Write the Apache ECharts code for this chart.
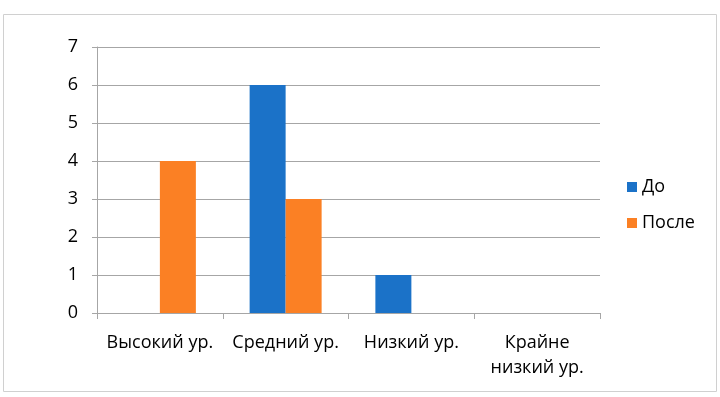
<!DOCTYPE html>
<html>
<head>
<meta charset="utf-8">
<script src="https://cdn.jsdelivr.net/npm/echarts@6/dist/echarts.min.js"></script>
<style>
  html, body { margin: 0; padding: 0; background: #fff; }
  #chart { width: 720px; height: 397px; }
</style>
</head>
<body>
<div id="chart"></div>
<script>
// levels on the x axis
var categories = ["Высокий ур.", "Средний ур.", "Низкий ур.", "Крайне\nнизкий ур."];
var before = [0, 6, 1, 0];   // До
var after = [4, 3, 0, 0];    // После

var font = "'Open Sans', 'Noto Sans', sans-serif";
var chart = echarts.init(document.getElementById("chart"));

chart.setOption({
  animation: false,
  textStyle: { fontFamily: font },
  graphic: [{
    type: "rect",
    shape: { x: 3.5, y: 14.5, width: 713, height: 377 },
    style: { fill: "none", stroke: "#d0d0d0", lineWidth: 1 }
  }],
  grid: { left: 97, right: 120, top: 47, bottom: 84 },
  legend: {
    orient: "vertical",
    left: 622,
    top: 173,
    itemWidth: 10,
    itemHeight: 10,
    itemGap: 18,
    icon: "rect",
    textStyle: { fontFamily: font, fontSize: 18, color: "#000" },
    data: ["До", "После"]
  },
  xAxis: {
    type: "category",
    data: categories,
    axisLine: { lineStyle: { color: "#a6a6a6" } },
    axisTick: { show: true, length: 6, alignWithLabel: false, lineStyle: { color: "#a6a6a6" } },
    axisLabel: { color: "#000", fontSize: 18, margin: 17, lineHeight: 25, interval: 0, fontFamily: font }
  },
  yAxis: {
    type: "value",
    min: 0,
    max: 7,
    interval: 1,
    axisLine: { show: true, lineStyle: { color: "#a6a6a6" } },
    axisTick: { show: true, length: 5, lineStyle: { color: "#a6a6a6" } },
    splitLine: { lineStyle: { color: "#a6a6a6" } },
    axisLabel: { color: "#000", fontSize: 18, margin: 19, fontFamily: font }
  },
  series: [
    {
      name: "До",
      type: "bar",
      data: before,
      barWidth: 36,
      barGap: "0%",
      itemStyle: { color: "#1b72c8" }
    },
    {
      name: "После",
      type: "bar",
      data: after,
      barWidth: 36,
      barGap: "0%",
      itemStyle: { color: "#fb8024" }
    }
  ]
});
</script>
</body>
</html>
